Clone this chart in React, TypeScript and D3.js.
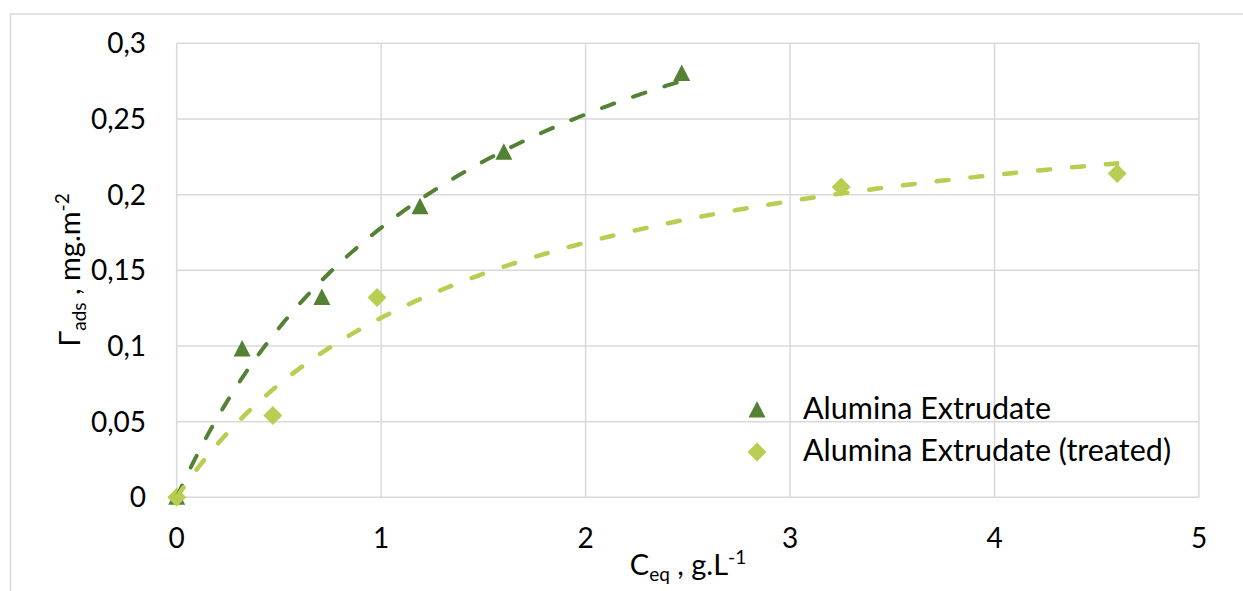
import React from "react";
import * as d3 from "d3";

// ---- data ----
const xTicks = [0, 1, 2, 3, 4, 5];
const yTicks = [0, 0.05, 0.1, 0.15, 0.2, 0.25, 0.3];

const extrudateX = [0, 0.32, 0.71, 1.19, 1.6, 2.47];
const extrudateY = [0, 0.098, 0.132, 0.192, 0.228, 0.28];

const treatedX = [0, 0.47, 0.98, 3.25, 4.6];
const treatedY = [0, 0.054, 0.132, 0.205, 0.214];

// Langmuir-type trendlines (qmax, K)
const extrudateFit = { qmax: 0.437, K: 0.688 };
const treatedFit = { qmax: 0.29, K: 0.692 };

const seriesNames = ["Alumina Extrudate", "Alumina Extrudate (treated)"];
const colors = ["#548235", "#B8CE52"];

const W = 1243;
const H = 591;
const FONT = "Lato, 'Open Sans', sans-serif";

export default function App() {
  const x = d3.scaleLinear().domain([0, 5]).range([176.7, 1199]);
  const y = d3.scaleLinear().domain([0, 0.3]).range([497.3, 43.3]);

  const fmt = (v: number) => String(+v.toFixed(2)).replace(".", ",");

  const curve = (fit: { qmax: number; K: number }, xmax: number) => {
    const xs = d3.range(0, xmax, xmax / 200).concat([xmax]);
    const line = d3
      .line<number>()
      .x((v) => x(v))
      .y((v) => y((fit.qmax * fit.K * v) / (1 + fit.K * v)));
    return line(xs) || "";
  };

  const tri = (cx: number, cy: number) =>
    `M${cx},${cy - 9} L${cx + 8.5},${cy + 7.5} L${cx - 8.5},${cy + 7.5} Z`;
  const dia = (cx: number, cy: number) =>
    `M${cx},${cy - 9.5} L${cx + 9.5},${cy} L${cx},${cy + 9.5} L${cx - 9.5},${cy} Z`;

  const [x0, x1] = x.range();
  const [y0, y1] = y.range();

  return (
    <svg
      width={W}
      height={H}
      style={{ position: "absolute", left: 0, top: 0, background: "#fff" }}
      fontFamily={FONT}
    >
      <rect x={0} y={0} width={W} height={H} fill="#fff" />
      {/* chart area border */}
      <rect x={10.5} y={14} width={W + 20} height={H + 20} fill="none" stroke="#d9d9d9" strokeWidth={1.5} />

      {/* gridlines */}
      {yTicks.map((t) => (
        <line key={"gy" + t} x1={x0} x2={x1} y1={y(t)} y2={y(t)} stroke="#d9d9d9" strokeWidth={1.5} />
      ))}
      {xTicks.map((t) => (
        <line key={"gx" + t} x1={x(t)} x2={x(t)} y1={y0} y2={y1} stroke="#d9d9d9" strokeWidth={1.5} />
      ))}

      {/* tick labels */}
      {yTicks.map((t) => (
        <text key={"ly" + t} x={146} y={y(t)} dy="0.36em" textAnchor="end" fontSize={28} fill="#000">
          {fmt(t)}
        </text>
      ))}
      {xTicks.map((t) => (
        <text key={"lx" + t} x={x(t)} y={548} textAnchor="middle" fontSize={28} fill="#000">
          {fmt(t)}
        </text>
      ))}

      {/* markers */}
      {extrudateX.map((v, i) => (
        <path key={"m1" + i} d={tri(x(v), y(extrudateY[i]))} fill={colors[0]} />
      ))}
      {treatedX.map((v, i) => (
        <path key={"m2" + i} d={dia(x(v), y(treatedY[i]))} fill={colors[1]} />
      ))}

      {/* trendlines */}
      <path
        d={curve(extrudateFit, extrudateX[extrudateX.length - 1])}
        fill="none"
        stroke={colors[0]}
        strokeWidth={4}
        strokeDasharray="13 20"
        strokeLinecap="round"
      />
      <path
        d={curve(treatedFit, treatedX[treatedX.length - 1])}
        fill="none"
        stroke={colors[1]}
        strokeWidth={4.5}
        strokeDasharray="12 22"
        strokeLinecap="round"
      />

      {/* legend */}
      <path d={tri(757, 410)} fill={colors[0]} />
      <path d={dia(757, 452)} fill={colors[1]} />
      <text x={803} y={419} fontSize={30.5} fill="#000">{seriesNames[0]}</text>
      <text x={803} y={461} fontSize={30.5} fill="#000">{seriesNames[1]}</text>

      {/* axis titles */}
      <text x={688} y={575} textAnchor="middle" fontSize={29} fill="#000">
        C<tspan fontSize={19} dy={6}>eq</tspan>
        <tspan dy={-6}> , g.L</tspan>
        <tspan fontSize={19} dy={-11}>-1</tspan>
      </text>
      <text transform="translate(80,270) rotate(-90)" textAnchor="middle" fontSize={29} fill="#000">
        Γ<tspan fontSize={19} dy={6}>ads</tspan>
        <tspan dy={-6}> , mg.m</tspan>
        <tspan fontSize={19} dy={-11}>-2</tspan>
      </text>
    </svg>
  );
}
